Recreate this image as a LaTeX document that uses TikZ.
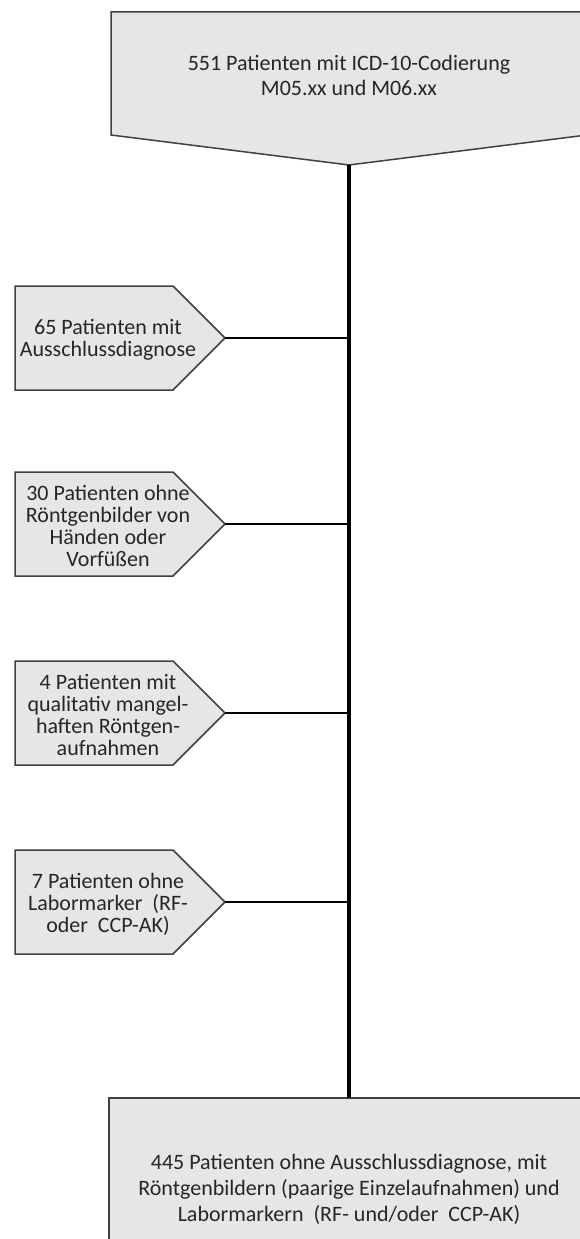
\documentclass[tikz,border=0pt]{standalone}
\usepackage{fontspec}
\setmainfont{Carlito}
\usetikzlibrary{calc}
\definecolor{boxfill}{RGB}{230,230,230}
\definecolor{boxedge}{RGB}{64,64,64}

\begin{document}
\begin{tikzpicture}[x=1pt, y=-1pt,
    box/.style={draw=boxedge, fill=boxfill, line width=1.5pt},
    label/.style={align=center, inner sep=0pt, text=black!85, font=\fontsize{22}{22}\selectfont},
    trunk/.style={line width=3.5pt},
    branch/.style={line width=2.3pt}]

        % page frame, cut off like the original
        \useasboundingbox (0,0) rectangle (580,1239);
        \clip (0,0) rectangle (580,1239);

        % first box, pointing down to the main line
        \draw[box] (111,12) -- (587,12) -- (587,135) -- (349,165) coordinate (start) -- (111,135) -- cycle;
        \node[label, font=\fontsize{22}{25}\selectfont] (all) at (349,75) {551 Patienten mit ICD-10-Codierung\\M05.xx und M06.xx};

        % last box
        \draw[box] (109,1098) rectangle (589,1290);
        \coordinate (final) at (349,1098);
        \node[label, font=\fontsize{22}{26}\selectfont] (rest) at (349,1189) {445 Patienten ohne Ausschlussdiagnose, mit\\Röntgenbildern (paarige Einzelaufnahmen) und\\Labormarkern~ (RF- und/oder~ CCP-AK)};

        % main line
        \draw[trunk] (start) -- (final);

        % excluded patients, branching off the main line
        \foreach \y/\name/\txt in {338/exa/{65 Patienten mit\\Ausschlussdiagnose},
                                    524/exb/{30 Patienten ohne\\Röntgenbilder von\\Händen oder\\Vorfüßen},
                                    713/exc/{4 Patienten mit\\qualitativ mangel-\\haften Röntgen-\\aufnahmen},
                                    902/exd/{7 Patienten ohne\\Labormarker~ (RF-\\oder~ CCP-AK)}}
        {
            \draw[box] (15,\y-52) -- (173,\y-52) -- (225,\y) coordinate (\name) -- (173,\y+52) -- (15,\y+52) -- cycle;
            \node[label] (\name text) at (108,\y+2) {\txt};
            \draw[branch] (\name) -- (\name -| start);
        }

\end{tikzpicture}
\end{document}
